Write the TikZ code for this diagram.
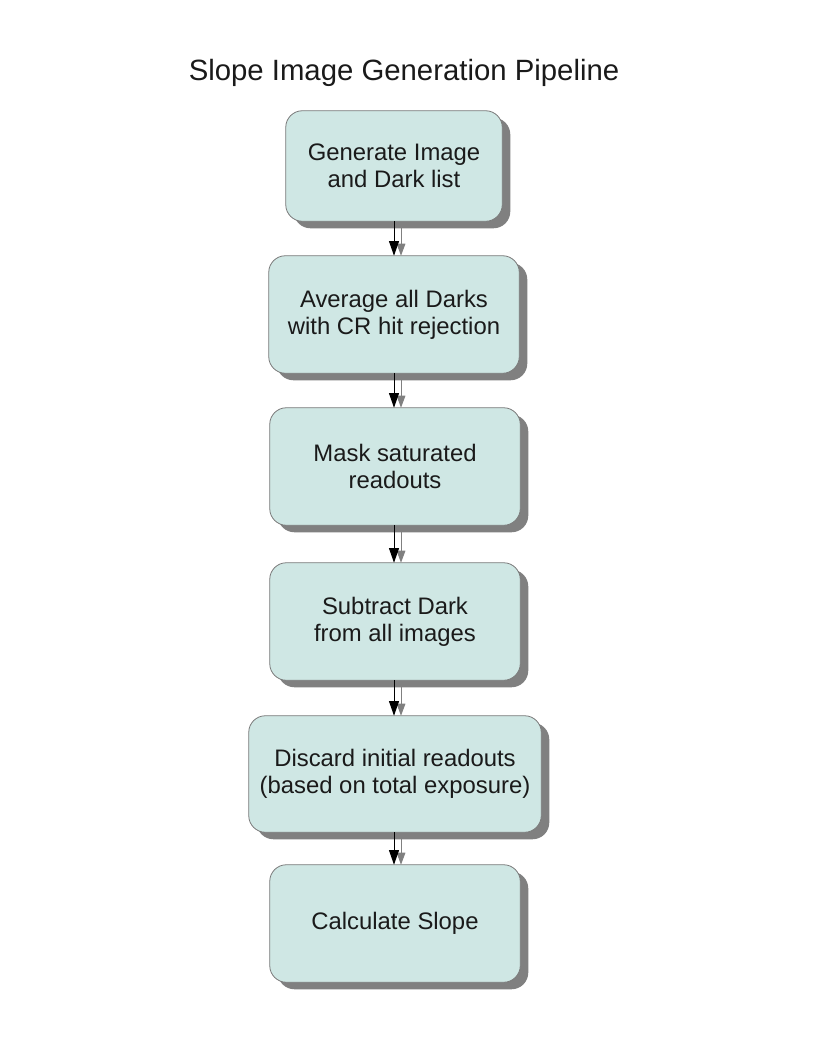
\documentclass[tikz,border=0pt]{standalone}
\usepackage{fontspec}
\setmainfont{Liberation Sans}
\usetikzlibrary{arrows.meta,calc}
\pgfdeclarelayer{bg}
\pgfsetlayers{bg,main}
\definecolor{boxfill}{HTML}{CFE7E4}
\definecolor{boxedge}{HTML}{7A7A7A}
\definecolor{shadowc}{HTML}{808080}
\definecolor{txt}{HTML}{1A1A1A}
\newcommand\stepoutline[3]{([xshift=#2,yshift=#3]#1.north) -- ([xshift=#2,yshift=#3]#1.north east) -- ([xshift=#2,yshift=#3]#1.south east) -- ([xshift=#2,yshift=#3]#1.south west) -- ([xshift=#2,yshift=#3]#1.north west) -- cycle}
\begin{document}
\begin{tikzpicture}[x=0.75pt,y=-0.75pt,
  titletext/.style={text=txt, font=\fontsize{22}{26}\selectfont, inner sep=0pt},
  stepbox/.style={text=txt, font=\fontsize{17.9}{20.3}\selectfont, align=center, inner sep=0pt,
    minimum width=187.5pt, minimum height=87.75pt},
  shapefill/.style={fill=boxfill, draw=boxedge, line width=0.6pt, rounded corners=12.5pt},
  shapeshadow/.style={fill=shadowc, rounded corners=12.5pt},
  flow/.style={draw=black, line width=0.75pt, -{Triangle[length=11pt,width=7.5pt]}},
  flowshadow/.style={draw=shadowc, line width=0.75pt, -{Triangle[length=9pt,width=6.5pt]}}]
\useasboundingbox (0,0) rectangle (816,1056);
\node[titletext] (title) at (404,73) {Slope Image Generation Pipeline};
\node[stepbox, minimum width=162pt, minimum height=82.5pt] (b1) at (394,166) {Generate Image\\and Dark list};
\node[stepbox] (b2) at (394,314.5) {Average all Darks\\with CR hit rejection};
\node[stepbox] (b3) at (395,466.5) {Mask saturated\\ readouts};
\node[stepbox] (b4) at (395,621.5) {Subtract Dark\\from all images};
\node[stepbox, minimum width=219pt, minimum height=87pt] (b5) at (395,774) {Discard initial readouts\\(based on total exposure)};
\node[stepbox] (b6) at (395,923.5) {Calculate Slope};
\begin{pgfonlayer}{bg}
\foreach \n in {b1,b2,b3,b4,b5,b6}{
  \path[shapeshadow] \stepoutline{\n}{6pt}{-5.25pt};
  \path[shapefill] \stepoutline{\n}{0pt}{0pt};
}
\end{pgfonlayer}
\foreach \a/\b in {b1/b2,b2/b3,b3/b4,b4/b5,b5/b6}{
  \draw[flowshadow] ([xshift=5.25pt,yshift=-5.25pt]\a.south -| 394,0) -- ([xshift=5.25pt]\b.north -| 394,0);
  \draw[flow] (\a.south -| 394,0) -- (\b.north -| 394,0);
}
\end{tikzpicture}
\end{document}
